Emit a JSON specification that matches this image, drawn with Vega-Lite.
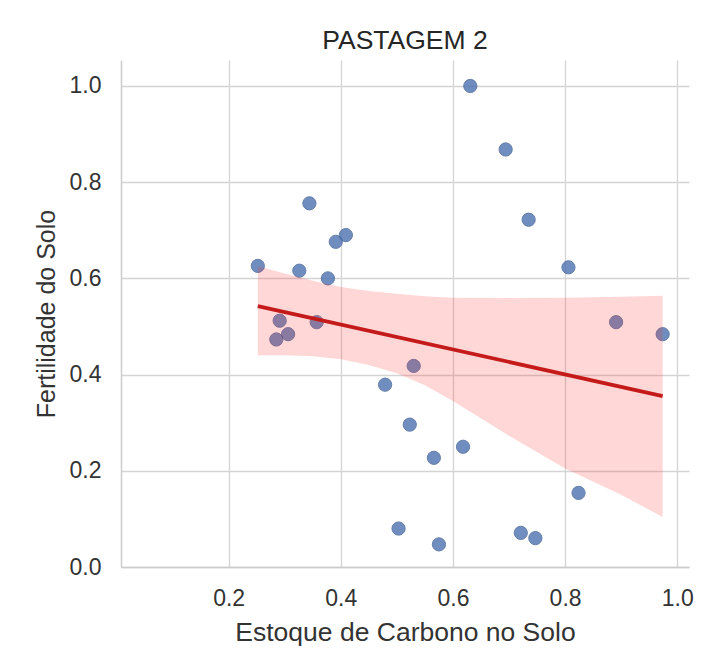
{
  "$schema": "https://vega.github.io/schema/vega-lite/v6.json",
  "width": 568,
  "height": 507,
  "padding": {"left": 34, "top": 27, "right": 6, "bottom": 5},
  "background": "white",
  "title": {"text": "PASTAGEM 2", "fontSize": 26.5, "font": "Liberation Sans", "fontWeight": "normal", "color": "#262626", "offset": 6},
  "datasets": {
    "points": [
      {"carbono": 0.344, "fertilidade": 0.756},
      {"carbono": 0.409, "fertilidade": 0.690},
      {"carbono": 0.391, "fertilidade": 0.676},
      {"carbono": 0.252, "fertilidade": 0.626},
      {"carbono": 0.326, "fertilidade": 0.616},
      {"carbono": 0.377, "fertilidade": 0.600},
      {"carbono": 0.291, "fertilidade": 0.512},
      {"carbono": 0.357, "fertilidade": 0.509},
      {"carbono": 0.306, "fertilidade": 0.484},
      {"carbono": 0.285, "fertilidade": 0.473},
      {"carbono": 0.530, "fertilidade": 0.418},
      {"carbono": 0.631, "fertilidade": 1.000},
      {"carbono": 0.694, "fertilidade": 0.868},
      {"carbono": 0.735, "fertilidade": 0.722},
      {"carbono": 0.806, "fertilidade": 0.623},
      {"carbono": 0.891, "fertilidade": 0.509},
      {"carbono": 0.974, "fertilidade": 0.484},
      {"carbono": 0.479, "fertilidade": 0.379},
      {"carbono": 0.523, "fertilidade": 0.296},
      {"carbono": 0.566, "fertilidade": 0.227},
      {"carbono": 0.618, "fertilidade": 0.250},
      {"carbono": 0.824, "fertilidade": 0.154},
      {"carbono": 0.503, "fertilidade": 0.080},
      {"carbono": 0.575, "fertilidade": 0.047},
      {"carbono": 0.721, "fertilidade": 0.071},
      {"carbono": 0.747, "fertilidade": 0.060}
    ],
    "band": [
      {"carbono": 0.252, "lo": 0.440, "hi": 0.625},
      {"carbono": 0.30, "lo": 0.440, "hi": 0.610},
      {"carbono": 0.35, "lo": 0.438, "hi": 0.595},
      {"carbono": 0.40, "lo": 0.432, "hi": 0.582},
      {"carbono": 0.45, "lo": 0.420, "hi": 0.574},
      {"carbono": 0.50, "lo": 0.403, "hi": 0.568},
      {"carbono": 0.55, "lo": 0.378, "hi": 0.563},
      {"carbono": 0.60, "lo": 0.345, "hi": 0.560},
      {"carbono": 0.70, "lo": 0.273, "hi": 0.559},
      {"carbono": 0.80, "lo": 0.205, "hi": 0.560},
      {"carbono": 0.90, "lo": 0.150, "hi": 0.562},
      {"carbono": 0.974, "lo": 0.104, "hi": 0.564}
    ]
  },
  "config": {
    "view": {"stroke": null},
    "font": "Liberation Sans",
    "axis": {
      "grid": true,
      "gridColor": "#d4d4d4",
      "gridWidth": 1.3,
      "domainColor": "#cccccc",
      "domainWidth": 1.5,
      "ticks": false,
      "labelFont": "Liberation Sans",
      "labelFontSize": 23,
      "labelColor": "#333333",
      "labelPadding": 20,
      "titleFont": "Liberation Sans",
      "titleFontSize": 25,
      "titleFontWeight": "normal",
      "titleColor": "#333333"
    }
  },
  "layer": [
    {
      "data": {"name": "points"},
      "mark": {"type": "circle", "size": 175, "color": "#4C72B0", "opacity": 0.8, "stroke": "#3f5f95", "strokeWidth": 1},
      "encoding": {
        "x": {"field": "carbono", "type": "quantitative", "title": "Estoque de Carbono no Solo",
              "scale": {"domain": [0.008, 1.021], "nice": false, "zero": false},
              "axis": {"values": [0.2, 0.4, 0.6, 0.8, 1.0], "format": ".1f", "titlePadding": 9, "titleFontSize": 26.5}},
        "y": {"field": "fertilidade", "type": "quantitative", "title": "Fertilidade do Solo",
              "scale": {"domain": [0, 1.054], "nice": false, "zero": false},
              "axis": {"values": [0, 0.2, 0.4, 0.6, 0.8, 1.0], "format": ".1f", "titlePadding": 10}}
      }
    },
    {
      "data": {"name": "band"},
      "mark": {"type": "area", "color": "#ff2020", "opacity": 0.18},
      "encoding": {
        "x": {"field": "carbono", "type": "quantitative"},
        "y": {"field": "lo", "type": "quantitative"},
        "y2": {"field": "hi"}
      }
    },
    {
      "data": {"name": "points"},
      "transform": [{"regression": "fertilidade", "on": "carbono"}],
      "mark": {"type": "line", "color": "#c41a1a", "strokeWidth": 3.8},
      "encoding": {
        "x": {"field": "carbono", "type": "quantitative"},
        "y": {"field": "fertilidade", "type": "quantitative"}
      }
    }
  ]
}
